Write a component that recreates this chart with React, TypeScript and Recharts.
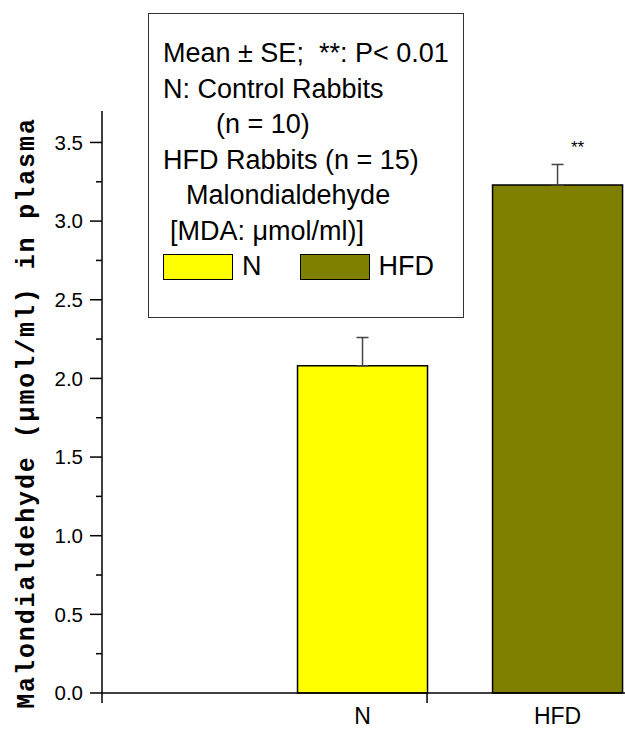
import { BarChart, Bar, XAxis, YAxis, Cell, ErrorBar, LabelList } from "recharts";

const groups = ["N", "HFD"];
const groupPos = [0.8, 1.4];
const mdaMean = [2.08, 3.23];
const mdaSE = [0.18, 0.13];
const signif = ["", "**"];
const barColors = ["#ffff00", "#808000"];

const yTicks = [0, 0.25, 0.5, 0.75, 1, 1.25, 1.5, 1.75, 2, 2.25, 2.5, 2.75, 3, 3.25, 3.5];
const xTicks = [0, 1];
const yTitle = "Malondialdehyde (\u00b5mol/ml) in plasma";
const legendLines = [
  "Mean \u00b1 SE;  **: P< 0.01",
  "N: Control Rabbits",
  "(n = 10)",
  "HFD Rabbits (n = 15)",
  "Malondialdehyde",
  "[MDA: \u03bcmol/ml)]",
];

const data = groups.map((name, i) => ({
  name,
  pos: groupPos[i],
  mean: mdaMean[i],
  err: [0, mdaSE[i]],
  sig: signif[i],
}));

const sans = "'Liberation Sans', Arial, sans-serif";

function YTick({ x, y, payload }: any) {
  const v = payload.value;
  const major = Math.round(v * 100) % 50 === 0;
  return (
    <g>
      <line x1={x - (major ? 12 : 6)} x2={x} y1={y} y2={y} stroke="#000" strokeWidth={1.5} />
      {major && (
        <text x={x - 19} y={y} dy="0.36em" textAnchor="end" fontSize={20.5} fontFamily={sans} fill="#000">
          {v.toFixed(1)}
        </text>
      )}
    </g>
  );
}

function XTick({ x, y }: any) {
  return <line x1={x} x2={x} y1={y} y2={y + 10} stroke="#000" strokeWidth={1.5} />;
}

function GroupName({ x, y, width, height, value }: any) {
  return (
    <text x={x + width / 2} y={y + height + 31} textAnchor="middle" fontSize={23} fontFamily={sans} fill="#000">
      {value}
    </text>
  );
}

function SigMark({ x, y, width, value }: any) {
  if (!value) return null;
  return (
    <text x={x + width / 2 + 20} y={y - 32} textAnchor="middle" fontSize={17} fontFamily={sans} fill="#000">
      {value}
    </text>
  );
}

function YTitle({ viewBox }: any) {
  const cx = viewBox.x + 27;
  const cy = viewBox.y + viewBox.height / 2 + 11;
  return (
    <text
      x={cx}
      y={cy}
      transform={`rotate(-90, ${cx}, ${cy})`}
      textAnchor="middle"
      dominantBaseline="central"
      fontSize={25}
      fontWeight="bold"
      letterSpacing={1.9}
      fontFamily="'Liberation Mono', 'Courier New', monospace"
      fill="#000"
    >
      {yTitle}
    </text>
  );
}

function LegendBox() {
  const indents = [0, 0, 53, 0, 23, 7];
  return (
    <div
      style={{
        position: "absolute",
        left: 148,
        top: 13,
        width: 316,
        height: 305,
        border: "1.5px solid #333",
        background: "#fff",
        fontFamily: sans,
        fontSize: 27,
        color: "#000",
        boxSizing: "border-box",
        padding: "22px 0 0 14px",
        lineHeight: "35.5px",
      }}
    >
      {legendLines.map((t, i) => (
        <div key={i} style={{ paddingLeft: indents[i], whiteSpace: "pre" }}>
          {t}
        </div>
      ))}
      <div style={{ display: "flex", alignItems: "center", height: 36 }}>
        {groups.map((g, i) => (
          <div key={g} style={{ display: "flex", alignItems: "center", marginRight: i === 0 ? 38 : 0 }}>
            <span
              style={{
                display: "inline-block",
                width: 70,
                height: 26,
                background: barColors[i],
                border: "1.5px solid #000",
                boxSizing: "border-box",
                marginRight: 9,
              }}
            />
            <span>{g}</span>
          </div>
        ))}
      </div>
    </div>
  );
}

export default function App() {
  return (
    <div style={{ position: "absolute", left: 0, top: 0, width: 625, height: 730, background: "#fff" }}>
      <BarChart width={625} height={730} data={data} margin={{ top: 111, right: 0, left: 0, bottom: 0 }}>
        <XAxis
          type="number"
          dataKey="pos"
          domain={[0, 1.609]}
          ticks={xTicks}
          allowDataOverflow
          height={37}
          tickSize={0}
          tickMargin={0}
          tick={<XTick />}
          axisLine={{ stroke: "#000", strokeWidth: 1.5 }}
          tickLine={false}
        />
        <YAxis
          type="number"
          domain={[0, 3.7]}
          ticks={yTicks}
          width={102}
          tickSize={0}
          tickMargin={0}
          tick={<YTick />}
          tickLine={false}
          interval={0}
          axisLine={{ stroke: "#000", strokeWidth: 1.5 }}
          label={<YTitle />}
        />
        <Bar dataKey="mean" barSize={130} stroke="#000" strokeWidth={1.5} isAnimationActive={false}>
          {data.map((d, i) => (
            <Cell key={d.name} fill={barColors[i]} />
          ))}
          <ErrorBar dataKey="err" direction="y" width={6} stroke="#444" strokeWidth={1.5} />
          <LabelList dataKey="name" content={<GroupName />} />
          <LabelList dataKey="sig" content={<SigMark />} />
        </Bar>
      </BarChart>
      <LegendBox />
    </div>
  );
}
